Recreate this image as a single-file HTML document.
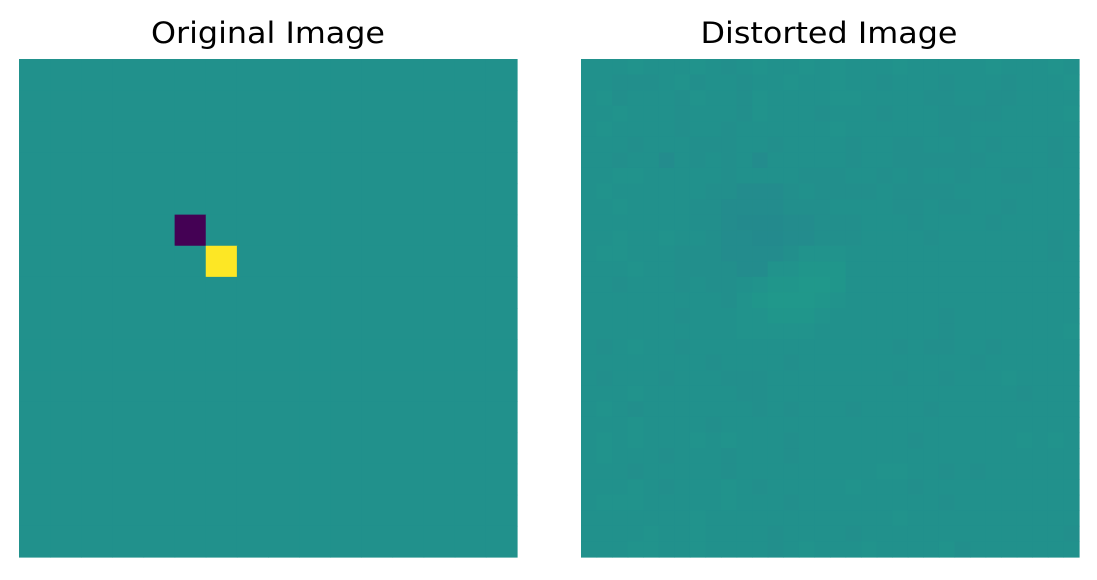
<!DOCTYPE html>
<html><head><meta charset="utf-8"><style>
body{margin:0;background:#fff;width:1097px;height:575px;overflow:hidden;font-family:"Liberation Sans","DejaVu Sans",sans-serif}
</style></head><body>
<svg width="1097" height="575">
<text x="268" y="43" text-anchor="middle" font-size="29" textLength="234" lengthAdjust="spacingAndGlyphs" style="font-family:'DejaVu Sans','Liberation Sans',sans-serif">Original Image</text>
<text x="829" y="43" text-anchor="middle" font-size="29" textLength="257" lengthAdjust="spacingAndGlyphs" style="font-family:'DejaVu Sans','Liberation Sans',sans-serif">Distorted Image</text>
<g id="left"></g>
<g id="right"></g>
</svg>
<script>
// Original: 16x16 grid, value 0.5 everywhere except two cells
const origSize = 16;
const origSpecial = [[5,5,0.0],[6,6,1.0]]; // [row,col,value]
// Distorted: 32x32 grid, digit d -> value 0.5 + (d-5)*0.01
const distRows = [
"55565556545655656555655555655565",
"55444564554556556554555455545556",
"56455546554655556655554455445555",
"55655545554655545554555444455556",
"56555545545555556555555445555555",
"55545554445545555455445545455545",
"55455354545355555455444444555545",
"55665555545555444554545545544555",
"56555555443334544445444455555555",
"55655554433334445555445445545555",
"55555554432223344455545555455555",
"55655655433223344455554555555545",
"56655544433334666555555555555545",
"55565544443366777555555555555555",
"55455545445677887555555555555555",
"55555555546788876555555555555555",
"55555545556677765555555455555555",
"55555555556666655555555455555556",
"54565545555555555555454455455555",
"55555555455554555555555554555555",
"54555455544455555555455455565555",
"55565555554455555555555555554555",
"56545555555454555455554555555555",
"55565555455555555555555555555555",
"56565556565554555555545555556565",
"56555455545554555555555555555555",
"55545555545555555556655454555555",
"55565455565455555655545555555555",
"56665555565554555555555455555555",
"55555556555555555555655555555555",
"55556556555545555455555555555554",
"55566556555545655565555645555555"];
const stops=[[0.0,[68,1,84]],[0.4,[42,120,142]],[0.45,[37,133,142]],[0.5,[33,145,140]],[0.55,[31,157,138]],[0.6,[34,168,132]],[1.0,[253,231,37]]];
function viridis(v){for(let i=0;i<stops.length-1;i++){const[a,ca]=stops[i],[b,cb]=stops[i+1];if(v<=b){const t=(v-a)/(b-a);return 'rgb('+ca.map((c,k)=>Math.round(c+(cb[k]-c)*t)).join(',')+')';}}return 'rgb(253,231,37)';}
const NS='http://www.w3.org/2000/svg';
function cell(g,x,y,s,v){const r=document.createElementNS(NS,'rect');r.setAttribute('x',x);r.setAttribute('y',y);r.setAttribute('width',s+0.6);r.setAttribute('height',s+0.6);r.setAttribute('fill',viridis(v));


g.appendChild(r);}
const L=document.getElementById('left'),R=document.getElementById('right');
const x0=19,y0=59,W=498,x1=581;
const s1=W/origSize;
for(let r=0;r<origSize;r++)for(let c=0;c<origSize;c++){let v=0.5;origSpecial.forEach(p=>{if(p[0]===r&&p[1]===c)v=p[2];});cell(L,x0+c*s1,y0+r*s1,s1,v);}
const n=distRows.length,s2=W/n;
for(let r=0;r<n;r++)for(let c=0;c<n;c++){const d=+distRows[r][c];cell(R,x1+c*s2,y0+r*s2,s2,0.5+(d-5)*0.01);}
</script>
</body></html>
